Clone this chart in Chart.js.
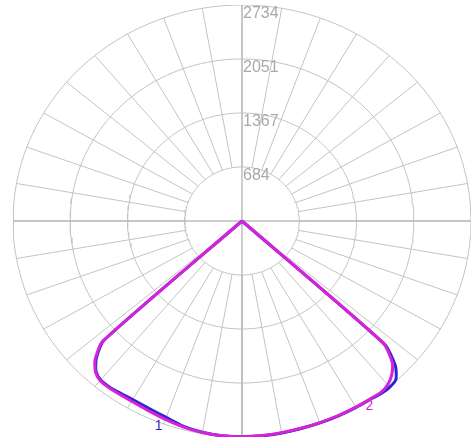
<!DOCTYPE html>
<html>
<head>
<meta charset="utf-8">
<script src="https://cdn.jsdelivr.net/npm/chart.js@4/dist/chart.umd.min.js"></script>
<style>
  html, body { margin: 0; padding: 0; background: #fff; }
  #wrap { width: 475px; height: 439px; }
</style>
</head>
<body>
<div id="wrap"><canvas id="polar" width="475" height="439"></canvas></div>
<script>
// grid rings (cd) and their labels
const ringValues = [684, 1367, 2051, 2734];
const ringLabels = ['684', '1367', '2051', '2734'];
const maxValue = 2734;
const spokeStep = 10; // degrees

// gamma angles from nadir, negative = left half
const gammaAngles = [-50, -47.5, -45, -42.5, -40, -37.5, -35, -30, -25, -20, -15, -10, -5, 0,
                     5, 10, 15, 20, 25, 30, 35, 37.5, 40, 42.5, 45, 47.5, 50];
// curve 1 (blue) and curve 2 (magenta), cd
const series1 = [0, 2240, 2460, 2580, 2625, 2630, 2625, 2610, 2620, 2645, 2690, 2715, 2730, 2734,
                 2730, 2725, 2720, 2720, 2722, 2725, 2732, 2745, 2745, 2720, 2590, 2310, 0];
const series2 = [0, 2260, 2480, 2590, 2635, 2640, 2638, 2635, 2648, 2672, 2700, 2718, 2728, 2730,
                 2726, 2720, 2715, 2715, 2718, 2720, 2725, 2730, 2705, 2645, 2540, 2285, 0];
const curveNames = ['1', '2'];
const curveColors = ['#2b26d2', '#d622d8'];
// where the curve names sit (gamma, cd)
const nameAngles = [-21, 33];
const nameRadius = [2775, 2790];

const rad = d => d * Math.PI / 180;
// gamma 0 points straight down
function toXY(gamma, value) {
  return { x: value * Math.sin(rad(gamma)), y: -value * Math.cos(rad(gamma)) };
}

// rings
const ringSets = ringValues.map(v => {
  const pts = [];
  for (let a = 0; a <= 360; a += 2) pts.push(toXY(a, v));
  return {
    data: pts, showLine: true, pointRadius: 0, borderColor: '#c3c3c3',
    borderWidth: 1, order: 10
  };
});

// spokes from the first ring to the outer ring
const spokePts = [];
for (let a = 0; a < 360; a += spokeStep) {
  spokePts.push(toXY(a, ringValues[0]));
  spokePts.push(toXY(a, maxValue));
  spokePts.push({ x: NaN, y: NaN });
}
// main axes through the centre
const axisPts = [
  { x: -maxValue, y: 0 }, { x: maxValue, y: 0 }, { x: NaN, y: NaN },
  { x: 0, y: -maxValue }, { x: 0, y: maxValue }
];

const curveSets = [series1, series2].map((s, i) => ({
  label: curveNames[i],
  data: gammaAngles.map((g, k) => toXY(g, s[k])),
  showLine: true, pointRadius: 0, borderColor: curveColors[i],
  borderWidth: 3, tension: 0.2, order: 1 - i
}));

const labelPlugin = {
  id: 'polarLabels',
  afterDatasetsDraw(chart) {
    const ctx = chart.ctx;
    const xs = chart.scales.x, ys = chart.scales.y;
    ctx.save();
    ctx.font = '16px "Liberation Sans", Arial, sans-serif';
    ctx.fillStyle = '#a9a9a9';
    ctx.textAlign = 'left';
    ctx.textBaseline = 'top';
    ringValues.forEach((v, i) => {
      ctx.fillText(ringLabels[i], xs.getPixelForValue(0) + 1, ys.getPixelForValue(v) + 1);
    });
    ctx.font = '14px "Liberation Sans", Arial, sans-serif';
    ctx.textAlign = 'center';
    ctx.textBaseline = 'middle';
    curveNames.forEach((n, i) => {
      const p = toXY(nameAngles[i], nameRadius[i]);
      ctx.fillStyle = curveColors[i];
      ctx.fillText(n, xs.getPixelForValue(p.x), ys.getPixelForValue(p.y));
    });
    ctx.restore();
  }
};

new Chart(document.getElementById('polar'), {
  type: 'scatter',
  data: {
    datasets: [
      ...curveSets,
      ...ringSets,
      { data: spokePts, showLine: true, spanGaps: false, pointRadius: 0, borderColor: '#c3c3c3', borderWidth: 1, order: 10 },
      { data: axisPts, showLine: true, spanGaps: false, pointRadius: 0, borderColor: '#bdbdbd', borderWidth: 1.5, order: 9 }
    ]
  },
  options: {
    responsive: false,
    animation: false,
    layout: { padding: { left: 13, right: 4, top: 5, bottom: 2 } },
    scales: {
      x: { type: 'linear', min: -maxValue, max: maxValue, display: false },
      y: { type: 'linear', min: -maxValue, max: maxValue, display: false }
    },
    plugins: {
      legend: { display: false },
      tooltip: { enabled: false }
    }
  },
  plugins: [labelPlugin]
});
</script>
</body>
</html>
